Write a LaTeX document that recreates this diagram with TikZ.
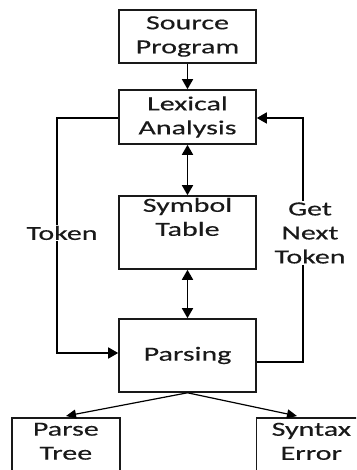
\documentclass[tikz,border=0pt]{standalone}
\usepackage{fontspec}
\setmainfont[FakeStretch=1.5, FakeBold=0.3]{Carlito}
\usetikzlibrary{arrows.meta}
\tikzset{
  x=1pt, y=1pt,
  box/.style={draw=black!90, line width=1.6pt, inner sep=0pt, align=center,
    font=\fontsize{20}{24}\selectfont, text=black!90},
  lbl/.style={inner sep=1pt, align=center, fill=white,
    font=\fontsize{20}{24}\selectfont, text=black!90},
  conn/.style={draw=black, line width=1.6pt},
  tip/.style={-{Triangle[length=10pt,width=11pt]}},
  tips/.style={{Triangle[length=10pt,width=11pt]}-{Triangle[length=10pt,width=11pt]}},
  tipsm/.style={-{Triangle[length=10pt,width=9pt]}},
}
\begin{document}
\begin{tikzpicture}
\clip (0,0) rectangle (356,470);
\fill[white] (0,0) rectangle (356,470);

% main column of stages
\node[box, minimum width=137pt, minimum height=53pt] (src)  at (187.5,433.5) {Source\\Program};
\node[box, minimum width=137pt, minimum height=54pt] (lex)  at (187.5,353)   {Lexical\\Analysis};
\node[box, minimum width=137pt, minimum height=73pt] (sym)  at (187.5,237.5) {Symbol\\Table\\\strut};
\node[box, minimum width=137pt, minimum height=73pt] (pars) at (187.5,114.5) {Parsing};

% outputs of the parser (running off the lower edge)
\node[box, minimum width=108pt, inner ysep=5pt, anchor=north west] (tree) at (11,53) {Parse\\Tree\\\strut\\\strut};
\node[box, minimum width=110pt, inner ysep=5pt, anchor=north west] (err)  at (255.5,53) {Syntax\\Error\\\strut\\\strut};

% vertical flow
\draw[conn, tip]  (src) -- (lex);
\draw[conn, tips] (lex) -- (sym);
\draw[conn, tips] (sym) -- (pars);

% token loop on the left
\coordinate (tl) at (57,352);
\coordinate (bl) at (57,117);
\draw[conn, tip] (lex.west |- tl) -- (tl) -- (bl) -- (pars.west |- bl);
\node[lbl] (tok) at (62,237) {Token};

% request loop on the right
\coordinate (tr) at (303,352);
\coordinate (br) at (303,108);
\draw[conn, tip] (pars.east |- br) -- (br) -- (tr) -- (lex.east |- tr);
\node[lbl] (next) at (310,237) {Get\\Next\\Token};

% parser results
\coordinate (ta) at (66,54);
\coordinate (ea) at (297,54);
\draw[conn, line width=1.2pt, tipsm] (pars.south) -- (ta);
\draw[conn, line width=1.2pt, tipsm] (pars.south) -- (ea);
\end{tikzpicture}
\end{document}
